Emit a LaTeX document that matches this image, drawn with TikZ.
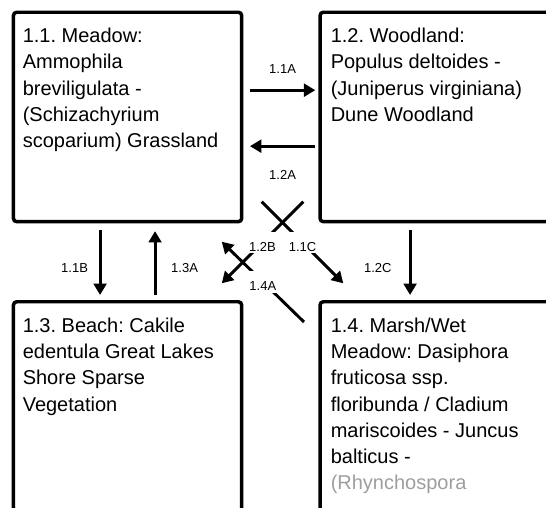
\documentclass[tikz,border=0pt]{standalone}
\usepackage{fontspec}
\setmainfont{Liberation Sans}
\usetikzlibrary{arrows.meta,calc}
\frenchspacing
\begin{document}
\begin{tikzpicture}[x=.75pt,y=-.75pt,
  habitat/.style={draw,line width=2.6pt,rounded corners=2.5pt,inner sep=0pt,anchor=north west,minimum height=157.1pt},
  habtext/.style={anchor=north west,inner sep=0pt,align=left,font=\fontsize{15}{19.7}\selectfont},
  flow/.style={line width=2.2pt,-{Triangle[length=8.5pt,width=9.5pt]}},
  tag/.style={font=\fontsize{9.75}{11}\selectfont,inner sep=0pt},
  cut/.style={tag,fill=white,inner xsep=.8pt,inner ysep=0pt,text height=14.6pt,text depth=1.5pt}]
  \useasboundingbox(0,0)rectangle(546,507);
  \clip(0,0)rectangle(546,507);
  \node[habitat,minimum width=171.2pt](meadow)at(11.7,10.5){};
  \node[habitat,minimum width=176.3pt](woodland)at(318.3,10.5){};
  \node[habitat,minimum width=171.2pt](beach)at(11.7,300){};
  \node[habitat,minimum width=176.3pt](marsh)at(318.3,300){};
  \node[habtext](meadowtxt)at($(meadow.north west)+(10.8,17.4)$){1.1. Meadow:\\Ammophila\\breviligulata -\\(Schizachyrium\\scoparium) Grassland};
  \node[habtext](woodlandtxt)at($(woodland.north west)+(12.2,17.4)$){1.2. Woodland:\\Populus deltoides -\\(Juniperus virginiana)\\Dune Woodland};
  \node[habtext](beachtxt)at($(beach.north west)+(10.8,17.6)$){1.3. Beach: Cakile\\edentula Great Lakes\\Shore Sparse\\Vegetation};
  \node[habtext](marshtxt)at($(marsh.north west)+(12.2,17.6)$){1.4. Marsh/Wet\\Meadow: Dasiphora\\fruticosa ssp.\\floribunda / Cladium\\mariscoides - Juncus\\balticus -\\\textcolor{black!38}{(Rhynchospora}};
  \draw[flow]($(meadow.east)+(6.5,-26.8)$)--($(woodland.west)+(-3,-26.8)$)node[tag,midway,above=11.7pt]{1.1A};
  \draw[flow]($(woodland.west)+(-3,29.2)$)--($(meadow.east)+(6.5,29.2)$)node[tag,midway,below=16.9pt]{1.2A};
  \draw[flow]($(meadow.south)+(-27.5,7)$)--($(beach.north)+(-27.5,-5)$)node[tag,pos=.58,left=8pt]{1.1B};
  \draw[flow]($(beach.north)+(27.5,-5)$)--($(meadow.south)+(27.5,7.7)$)node[tag,pos=.42,right=11pt]{1.3A};
  \draw[flow]($(woodland.south)+(-27.5,7)$)--($(marsh.north)+(-27.5,-5)$)node[tag,pos=.58,left=12.8pt]{1.2C};
  \draw[flow]($(meadow.south east)+(18.3,-21.7)$)--($(marsh.north west)+(25,-16.7)$)node[cut,midway]{1.1C};
  \draw[flow]($(woodland.south west)+(-15,-21.7)$)--($(beach.north east)+(-21.7,-16.7)$)node[cut,midway]{1.2B};
  \draw[flow]($(marsh.north west)+(-14.3,22)$)--($(meadow.south east)+(-21.7,18.3)$)node[cut,midway]{1.4A};
\end{tikzpicture}
\end{document}
